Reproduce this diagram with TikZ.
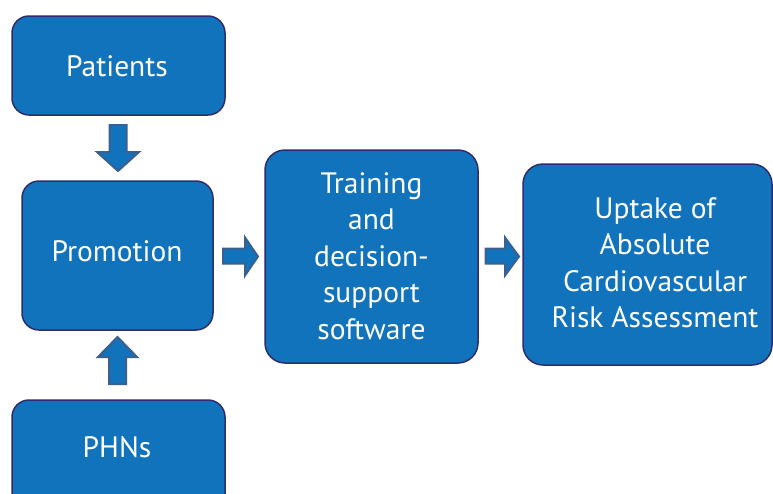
\documentclass[tikz,border=0pt]{standalone}
\usepackage{fontspec}
\setmainfont{PT Sans}
\definecolor{boxfill}{RGB}{17,115,187}
\definecolor{boxline}{RGB}{46,45,110}
\definecolor{arrline}{RGB}{59,95,142}
\tikzset{
  box/.style={draw=boxline, line width=1.5pt, fill=boxfill, rounded corners=17pt},
  lbl/.style={text=white, font=\fontsize{29.5}{36.5}\selectfont, align=center, inner sep=0pt},
  blockarrow/.style={draw=arrline, line width=2pt, fill=boxfill, line join=miter}
}
\begin{document}
\begin{tikzpicture}[x=1pt,y=-1pt]
\useasboundingbox (0,0) rectangle (773,493);
\begin{scope}
\clip (0,0) rectangle (773,493);
% boxes
\draw[box] (12,16) rectangle (225,115);
\node[lbl] (patients) at (117,66) {Patients};
\draw[box] (22,181) rectangle (213,330);
\node[lbl] (promotion) at (117,251) {Promotion};
\draw[box] (12,400) rectangle (225,520);
\node[lbl] (phns) at (117,447) {PHNs};
\draw[box, rounded corners=20pt] (265,150) rectangle (478,363);
\node[lbl] (training) at (371.5,256) {Training\\and\\decision-\\support\\software};
\draw[box, rounded corners=20pt] (523,164) rectangle (772,365);
\node[lbl] (uptake) at (655,263) {Uptake of\\Absolute\\Cardiovascular\\Risk Assessment};
\end{scope}
% block arrows
\draw[blockarrow] (109.5,125) -- (126.5,125) -- (126.5,152) -- (139,152) -- (118,171) -- (97,152) -- (109.5,152) -- cycle;
\draw[blockarrow] (109,384) -- (126,384) -- (126,357) -- (137,357) -- (117.5,337) -- (98,357) -- (109,357) -- cycle;
\draw[blockarrow] (223,248.5) -- (245,248.5) -- (245,237.5) -- (258,256.5) -- (245,275.5) -- (245,263.5) -- (223,263.5) -- cycle;
\draw[blockarrow] (485.5,248.5) -- (505,248.5) -- (505,237.5) -- (519,256.5) -- (505,275.5) -- (505,263.5) -- (485.5,263.5) -- cycle;
\end{tikzpicture}
\end{document}
